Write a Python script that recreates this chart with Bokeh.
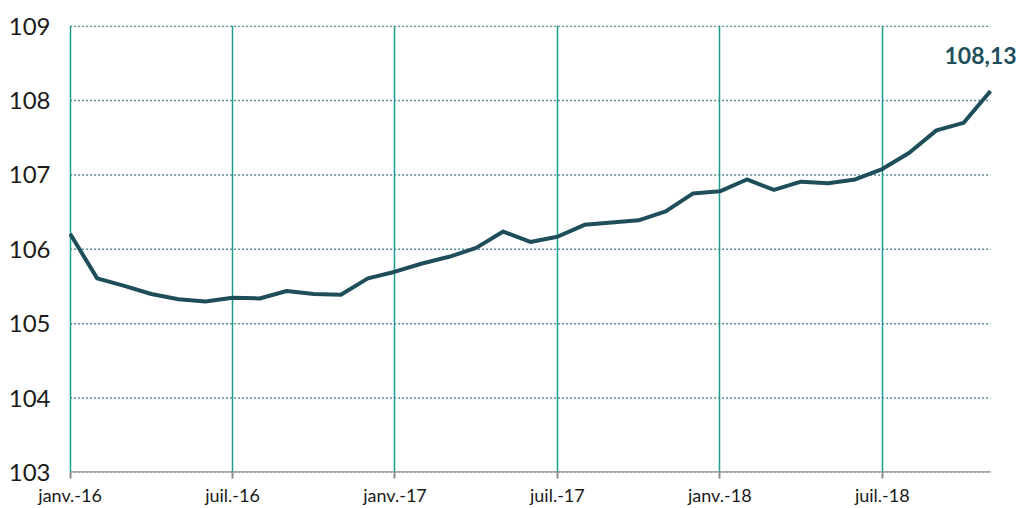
from bokeh.plotting import figure
from bokeh.models import FixedTicker, Label, Range1d
from bokeh.embed import file_html
from bokeh.resources import INLINE

months = list(range(35))
values = [106.21, 105.61, 105.51, 105.40, 105.33, 105.30, 105.35, 105.34, 105.44, 105.40,
          105.39, 105.61, 105.70, 105.81, 105.90, 106.02, 106.24, 106.10, 106.17, 106.33,
          106.36, 106.39, 106.51, 106.75, 106.78, 106.94, 106.80, 106.91, 106.89, 106.94,
          107.08, 107.30, 107.60, 107.70, 108.13]
tick_pos = [0, 6, 12, 18, 24, 30]
tick_labels = ["janv.-16", "juil.-16", "janv.-17", "juil.-17", "janv.-18", "juil.-18"]
y_ticks = [103, 104, 105, 106, 107, 108, 109]
last_label = "108,13"

FONT = "Lato"
LINE = "#1f4e5b"

x_end = months[-1]
p = figure(width=1019, height=508, output_backend="svg", toolbar_location=None,
           x_range=Range1d(-0.06, x_end + 1.07), y_range=Range1d(103, 109.01),
           min_border_left=68, min_border_right=0, min_border_top=25, min_border_bottom=0)
p.outline_line_color = None
p.background_fill_color = "white"

# horizontal dotted gridlines, ending at the last month
p.segment(x0=[0] * len(y_ticks), x1=[x_end] * len(y_ticks), y0=y_ticks, y1=y_ticks,
          line_color="#4f8a92", line_width=1.5, line_dash="2 2")
# x axis baseline
p.segment(x0=[0], x1=[x_end], y0=[y_ticks[0]], y1=[y_ticks[0]],
          line_color="#8c8c8c", line_width=2.5)

p.line(months, values, line_color=LINE, line_width=4, line_join="round")

p.xaxis.ticker = FixedTicker(ticks=tick_pos)
p.xaxis.major_label_overrides = {t: l for t, l in zip(tick_pos, tick_labels)}
p.xaxis.axis_line_color = None
p.xaxis.major_tick_line_color = "#8c8c8c"
p.xaxis.major_tick_line_width = 2
p.xaxis.major_tick_out = 6
p.xaxis.major_tick_in = 0
p.xaxis.minor_tick_line_color = None
p.xaxis.major_label_text_font = FONT
p.xaxis.major_label_text_font_size = "18px"
p.xaxis.major_label_text_color = "#1a1a1a"
p.xaxis.major_label_standoff = 5

p.yaxis.ticker = FixedTicker(ticks=y_ticks)
p.yaxis.axis_line_color = None
p.yaxis.major_tick_line_color = None
p.yaxis.minor_tick_line_color = None
p.yaxis.major_label_text_font = FONT
p.yaxis.major_label_text_font_size = "24px"
p.yaxis.major_label_text_color = "#1a1a1a"
p.yaxis.major_label_standoff = 12

p.xgrid.ticker = FixedTicker(ticks=tick_pos)
p.xgrid.grid_line_color = "#1a9e8e"
p.xgrid.grid_line_width = 1.5
p.ygrid.grid_line_color = None

p.add_layout(Label(x=months[-1], y=values[-1], text=last_label, x_offset=-10, y_offset=35,
                   text_align="center", text_baseline="middle", text_font=FONT,
                   text_font_size="23px", text_font_style="bold", text_color=LINE))

open("out.html", "w").write(file_html(p, INLINE))
